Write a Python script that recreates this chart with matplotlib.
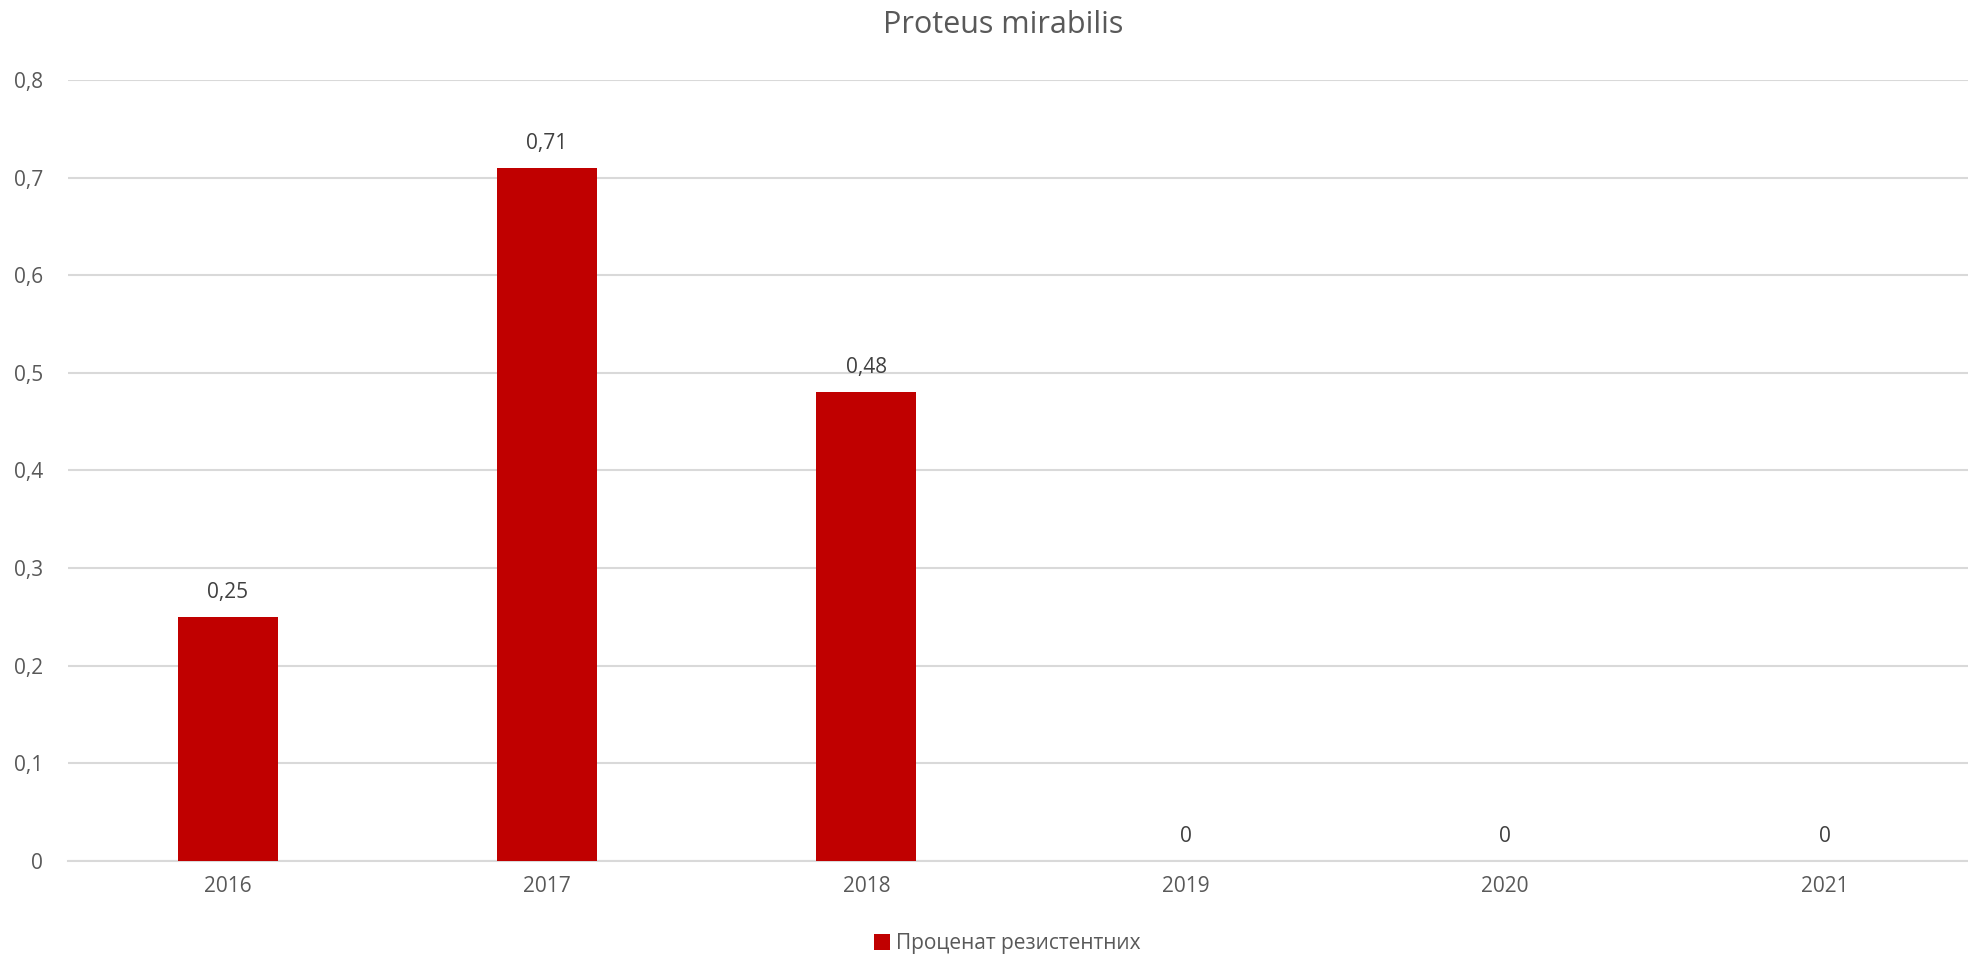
import matplotlib.pyplot as plt
from matplotlib.ticker import FuncFormatter

years = ['2016', '2017', '2018', '2019', '2020', '2021']
resistant = [0.25, 0.71, 0.48, 0, 0, 0]
y_ticks = [0, 0.1, 0.2, 0.3, 0.4, 0.5, 0.6, 0.7, 0.8]

bar_color = '#C00000'
text_color = '#595959'
grid_color = '#D9D9D9'

plt.rcParams['font.family'] = ['Open Sans', 'DejaVu Sans']

fig = plt.figure(figsize=(19.68, 9.59), dpi=100)
# plot area runs past the right edge, as in the exported sheet
ax = fig.add_axes([0.0346, 0.1022, 0.9736, 0.8144])

x = range(len(years))
bars = ax.bar(x, resistant, width=0.313, color=bar_color, zorder=3,
              label='Проценат резистентних')

def comma(v, pos=None):
    s = f'{v:.2f}'.rstrip('0').rstrip('.')
    return s.replace('.', ',')

for xi, v in zip(x, resistant):
    ax.annotate(comma(v), (xi, v), xytext=(0, 10), textcoords='offset points',
                ha='center', va='bottom', fontsize=15, color='#404040')

ax.set_xlim(-0.5, len(years) - 0.5)
ax.set_ylim(0, 0.8)
ax.set_yticks(y_ticks)
ax.yaxis.set_major_formatter(FuncFormatter(lambda v, p: f'{v:.1f}'.replace('.', ',') if v else '0'))
ax.set_xticks(list(x))
ax.set_xticklabels(years)
ax.tick_params(axis='both', length=0, labelsize=15, colors=text_color)
ax.tick_params(axis='y', pad=18)
ax.tick_params(axis='x', pad=11)
ax.grid(axis='y', color=grid_color, linewidth=1.5, zorder=0)
for side in ['top', 'right', 'left']:
    ax.spines[side].set_visible(False)
ax.spines['bottom'].set_color(grid_color)
ax.spines['bottom'].set_linewidth(1.5)

fig.text(0.51, 0.974, 'Proteus mirabilis', ha='center', va='center',
         fontsize=22, color=text_color)

fig.legend(loc='center', bbox_to_anchor=(0.512, 0.016), frameon=False,
           fontsize=15, labelcolor=text_color, handlelength=0.75, handleheight=0.75,
           handletextpad=0.3)

fig.savefig('out.png', dpi=100)
